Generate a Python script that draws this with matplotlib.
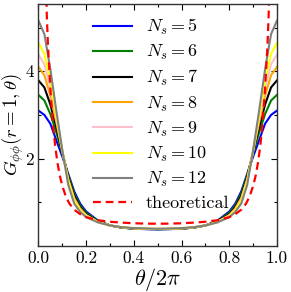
import numpy as np
import matplotlib
matplotlib.use("Agg")
import matplotlib.pyplot as plt

plt.rcParams.update({
    "font.family": "serif",
    "font.serif": ["cmr10"],
    "mathtext.fontset": "cm",
    "axes.formatter.use_mathtext": True,
    "axes.unicode_minus": False,
})

# half-range grid (theta / 2pi from 0 to 0.5); curves are symmetric about 0.5
theta_half = [0.0, 0.025, 0.05, 0.075, 0.1, 0.125, 0.15, 0.175, 0.2,
              0.25, 0.3, 0.35, 0.4, 0.45, 0.5]

G_ns5 = [3.10, 3.00, 2.80, 2.42, 2.05, 1.65, 1.25, 0.97, 0.79, 0.58, 0.47, 0.42, 0.395, 0.385, 0.38]
G_ns6 = [3.46, 3.33, 3.02, 2.60, 2.12, 1.62, 1.20, 0.93, 0.76, 0.57, 0.47, 0.42, 0.40, 0.39, 0.385]
G_ns7 = [3.79, 3.63, 3.24, 2.72, 2.15, 1.58, 1.15, 0.89, 0.73, 0.56, 0.47, 0.425, 0.40, 0.39, 0.387]
G_ns8 = [4.10, 3.91, 3.44, 2.83, 2.17, 1.54, 1.10, 0.86, 0.71, 0.55, 0.47, 0.425, 0.403, 0.393, 0.39]
G_ns9 = [4.38, 4.16, 3.62, 2.92, 2.18, 1.50, 1.06, 0.83, 0.70, 0.55, 0.47, 0.43, 0.405, 0.395, 0.39]
G_ns10 = [4.65, 4.40, 3.78, 2.99, 2.19, 1.47, 1.03, 0.81, 0.68, 0.545, 0.47, 0.43, 0.405, 0.395, 0.392]
G_ns12 = [5.16, 4.85, 4.05, 3.10, 2.20, 1.40, 0.97, 0.78, 0.66, 0.54, 0.47, 0.43, 0.41, 0.40, 0.395]

theta_theory_half = [0.02, 0.03, 0.035, 0.04, 0.05, 0.06, 0.07, 0.08, 0.09, 0.1, 0.115,
                     0.13, 0.15, 0.175, 0.2, 0.25, 0.3, 0.35, 0.4, 0.45, 0.5]
G_theory_half = [12.0, 6.5, 5.3, 4.6, 3.6, 2.85, 2.3, 1.9, 1.6, 1.38, 1.13,
                 0.97, 0.83, 0.73, 0.66, 0.59, 0.555, 0.535, 0.52, 0.513, 0.51]

labels = [r"$N_s = 5$", r"$N_s = 6$", r"$N_s = 7$", r"$N_s = 8$",
          r"$N_s = 9$", r"$N_s = 10$", r"$N_s = 12$"]
colors = ["blue", "green", "black", "orange", "pink", "yellow", "gray"]
series = [G_ns5, G_ns6, G_ns7, G_ns8, G_ns9, G_ns10, G_ns12]


def mirror(x_half, y_half):
    x = np.asarray(x_half, float)
    y = np.asarray(y_half, float)
    xf = np.concatenate([x, 1.0 - x[-2::-1]])
    yf = np.concatenate([y, y[-2::-1]])
    return xf, yf


fig = plt.figure(figsize=(2.91, 2.92), dpi=100)
ax = fig.add_axes([0.132, 0.1575, 0.820, 0.8305])

for ys, c, lab in zip(series, colors, labels):
    x, y = mirror(theta_half, ys)
    ax.plot(x, y, color=c, lw=1.5, label=lab)

xt, yt = mirror(theta_theory_half, G_theory_half)
ax.plot(xt, yt, color="red", lw=1.6, ls=(0, (3.5, 2.2)), label="theoretical")

ax.set_xlim(0, 1)
ax.set_ylim(0, 5.55)
ax.set_xticks([0.0, 0.2, 0.4, 0.6, 0.8, 1.0])
ax.set_xticklabels(["0.0", "0.2", "0.4", "0.6", "0.8", "1.0"])
ax.set_xticks(np.arange(0.1, 1.0, 0.2), minor=True)
ax.set_yticks([2, 4])
ax.set_yticklabels(["2", "4"])
ax.set_yticks([1, 3, 5], minor=True)
ax.tick_params(which="both", direction="in", top=True, right=True, labelsize=12.5, pad=3)
ax.tick_params(which="major", length=4, width=0.8)
ax.tick_params(which="minor", length=2, width=0.8)
for s in ax.spines.values():
    s.set_linewidth(1.0)
    s.set_color("#333333")

ax.set_xlabel(r"$\theta/2\pi$", fontsize=16, labelpad=0)
ax.set_ylabel(r"$G_{\phi\phi}(r=1,\theta)$", fontsize=13.5, labelpad=0)

ax.legend(loc="upper left", bbox_to_anchor=(0.228, 0.945), frameon=False,
          fontsize=13, handlelength=2.15, handletextpad=0.78, labelspacing=0.34,
          borderaxespad=0, borderpad=0)

fig.savefig("out.png", dpi=100)
